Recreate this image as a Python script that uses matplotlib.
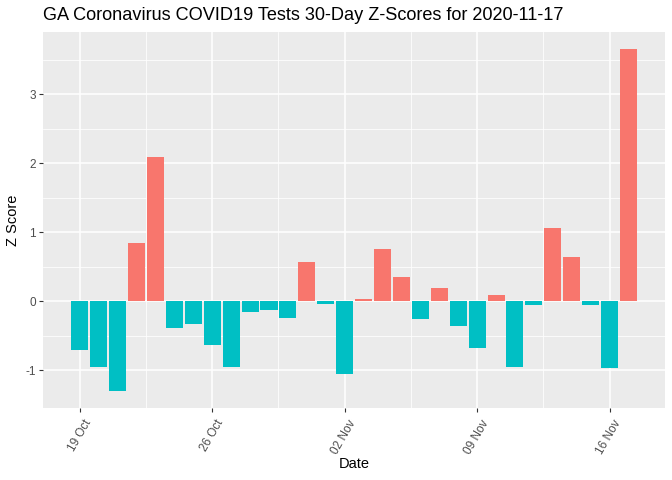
import numpy as np
import matplotlib
matplotlib.use("Agg")
import matplotlib.pyplot as plt
import matplotlib.dates as mdates
import matplotlib.transforms as mtransforms
from datetime import date, timedelta

# data: 30 days of z-scores, 2020-10-19 .. 2020-11-17
start = date(2020, 10, 19)
dates = [start + timedelta(days=i) for i in range(30)]
zscores = [-0.70, -0.96, -1.30, 0.84, 2.09, -0.39, -0.33, -0.64, -0.96, -0.16,
           -0.13, -0.25, 0.57, -0.04, -1.06, 0.03, 0.75, 0.35, -0.26, 0.19,
           -0.36, -0.68, 0.09, -0.96, -0.05, 1.06, 0.64, -0.05, -0.97, 3.65]
tick_dates = [date(2020, 10, 19), date(2020, 10, 26), date(2020, 11, 2),
              date(2020, 11, 9), date(2020, 11, 16)]
tick_labels = ["19 Oct", "26 Oct", "02 Nov", "09 Nov", "16 Nov"]
title = "GA Coronavirus COVID19 Tests 30-Day Z-Scores for 2020-11-17"

plt.rcParams['font.family'] = ['Liberation Sans', 'DejaVu Sans']

x = mdates.date2num(dates)
z = np.array(zscores)
colors = np.where(z > 0, "#F8766D", "#00BFC4")

fig = plt.figure(figsize=(6.72, 4.8), dpi=100)
ax = fig.add_axes([0.064, 0.150, 0.926, 0.783])
ax.set_facecolor("#EBEBEB")
ax.bar(x, z, width=0.9, color=colors, zorder=3)

# ggplot-like limits with 5% expansion
xlo, xhi = x.min() - 0.45, x.max() + 0.45
xr = xhi - xlo
ax.set_xlim(xlo - 0.05 * xr, xhi + 0.05 * xr)
ylo, yhi = z.min(), z.max()
yr = yhi - ylo
ax.set_ylim(ylo - 0.05 * yr, yhi + 0.05 * yr)

tx = mdates.date2num(tick_dates)
ax.set_xticks(tx)
ax.set_xticks((tx[:-1] + tx[1:]) / 2, minor=True)
ax.set_yticks([-1, 0, 1, 2, 3])
ax.set_yticklabels(["-1", "0", "1", "2", "3"], fontsize=8.5, color="#4D4D4D")
ax.set_yticks([-0.5, 0.5, 1.5, 2.5, 3.5], minor=True)

ax.grid(which="major", color="white", linewidth=1.1, zorder=0)
ax.grid(which="minor", color="white", linewidth=0.55, zorder=0)
ax.set_axisbelow(True)
ax.tick_params(which="major", length=3, width=0.8, color="#333333", pad=2)
ax.tick_params(which="minor", length=0)
for s in ax.spines.values():
    s.set_visible(False)

ax.set_xticklabels(tick_labels, rotation=60, ha="right", va="top",
                   rotation_mode="anchor", fontsize=8.5, color="#4D4D4D")
# nudge the rotated labels right/down like ggplot's hjust=1
shift = mtransforms.ScaledTranslation(0.035, -0.03, fig.dpi_scale_trans)
for lab in ax.get_xticklabels():
    lab.set_transform(lab.get_transform() + shift)

ax.set_xlabel("Date", fontsize=10.5, labelpad=0)
ax.set_ylabel("Z Score", fontsize=10.5, labelpad=4)
fig.text(0.064, 0.968, title, fontsize=13.1, ha="left", va="center")

fig.savefig("out.png", dpi=100)
